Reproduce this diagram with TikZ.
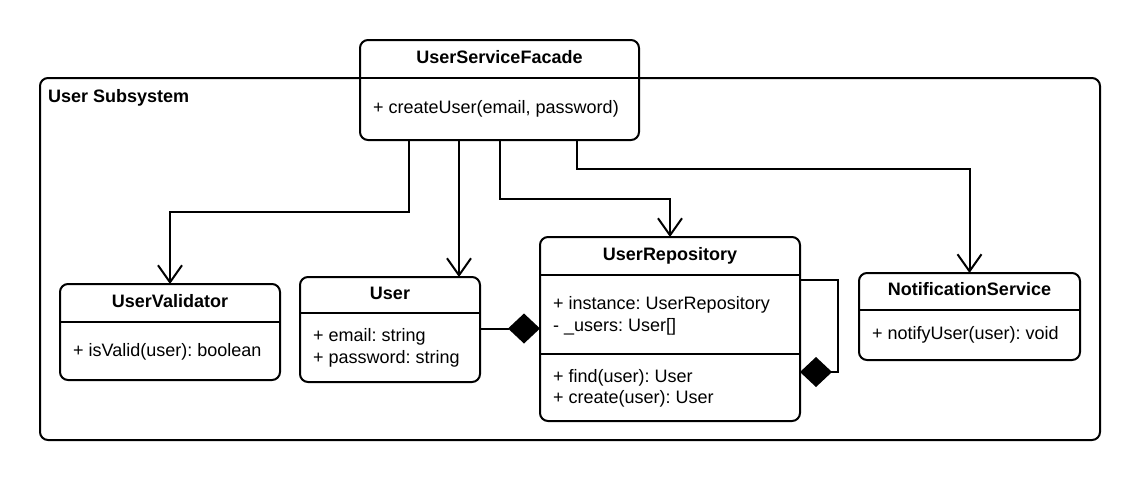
\documentclass[tikz,border=0pt]{standalone}
\usepackage{fontspec}
\setmainfont{Liberation Sans}
\usetikzlibrary{arrows.meta,positioning}
\frenchspacing
\newcommand{\umlfont}{\fontsize{18}{22}\selectfont}
\tikzset{
  classbox/.style={draw, line width=2pt, rounded corners=8pt, fill=white, anchor=north west, inner sep=0pt, outer sep=0pt},
  classname/.style={anchor=base, inner sep=0pt, font=\umlfont\bfseries},
  member/.style={anchor=base west, inner sep=0pt, font=\umlfont},
  assoc/.style={line width=2pt, -{Straight Barb[length=17pt,width=24pt]}},
  compo/.style={line width=2pt, -{Diamond[length=32pt,width=30pt]}},
}
\begin{document}
\begin{tikzpicture}[x=1pt,y=-1pt]
    \useasboundingbox (0,0) rectangle (1140,480);
    % subsystem frame
    \node[classbox, fill=none, minimum width=1060pt, minimum height=362pt] (subsys) at (40,78) {};
    \node[member, font=\umlfont\bfseries] (subsysL) at ([xshift=8pt,yshift=-24pt]subsys.north west) {User Subsystem};
    % facade
    \node[classbox, minimum width=279pt, minimum height=100pt] (facade) at (360,40) {};
        \draw[line width=2pt] ([yshift=-38pt]facade.north west) -- ([yshift=-38pt]facade.north east);
        \node[classname] (facadeN) at ([yshift=-23pt]facade.north) {UserServiceFacade};
        \node[member] (facadeM) at ([xshift=13pt,yshift=-73pt]facade.north west) {+ createUser(email, password)};
    % validator
    \node[classbox, minimum width=220pt, minimum height=96pt] (validator) at (60,284) {};
        \draw[line width=2pt] ([yshift=-38pt]validator.north west) -- ([yshift=-38pt]validator.north east);
        \node[classname] (validatorN) at ([yshift=-23pt]validator.north) {UserValidator};
        \node[member] (validatorM) at ([xshift=13pt,yshift=-72pt]validator.north west) {+ isValid(user): boolean};
    % user
    \node[classbox, minimum width=180pt, minimum height=105pt] (user) at (300,277) {};
        \draw[line width=2pt] ([yshift=-36pt]user.north west) -- ([yshift=-36pt]user.north east);
        \node[classname] (userN) at ([yshift=-22pt]user.north) {User};
        \node[member] (userA1) at ([xshift=13pt,yshift=-64pt]user.north west) {+ email: string};
        \node[member] (userA2) at ([yshift=-22pt]userA1.base west) {+ password: string};
    % repository
    \node[classbox, minimum width=260pt, minimum height=184pt] (repo) at (540,237) {};
        \draw[line width=2pt] ([yshift=-38pt]repo.north west) -- ([yshift=-38pt]repo.north east);
        \draw[line width=2pt] ([yshift=-117pt]repo.north west) -- ([yshift=-117pt]repo.north east);
        \node[classname] (repoN) at ([yshift=-23pt]repo.north) {UserRepository};
        \node[member] (repoA1) at ([xshift=13pt,yshift=-72pt]repo.north west) {+ instance: UserRepository};
        \node[member] (repoA2) at ([yshift=-22pt]repoA1.base west) {- \_users: User[]};
        \node[member] (repoM1) at ([xshift=13pt,yshift=-145pt]repo.north west) {+ find(user): User};
        \node[member] (repoM2) at ([yshift=-21pt]repoM1.base west) {+ create(user): User};
    % notification
    \node[classbox, minimum width=221pt, minimum height=87pt] (notif) at (859,273) {};
        \draw[line width=2pt] ([yshift=-37pt]notif.north west) -- ([yshift=-37pt]notif.north east);
        \node[classname] (notifN) at ([yshift=-22pt]notif.north) {NotificationService};
        \node[member] (notifM) at ([xshift=13pt,yshift=-66pt]notif.north west) {+ notifyUser(user): void};
    % connectors
    \coordinate (fV) at ([xshift=49pt]facade.south west);
    \coordinate (fU) at ([xshift=99pt]facade.south west);
    \coordinate (fR) at ([xshift=140pt]facade.south west);
    \coordinate (fN) at ([xshift=217pt]facade.south west);
    \draw[assoc] (fV) -- ++(0,72) -| (validator.north);
    \draw[assoc] (fU) -- (fU |- user.north);
    \draw[assoc] (fR) -- ++(0,59) -| (repo.north);
    \draw[assoc] (fN) -- ++(0,29) -| (notif.north);
    \draw[compo] ([yshift=1pt]user.east) -- ([yshift=1pt]user.east -| repo.west);
    \coordinate (loopA) at ([yshift=-43pt]repo.north east);
    \coordinate (loopB) at ([yshift=-135pt]repo.north east);
    \draw[compo] (loopA) -- ++(38,0) |- (loopB);
\end{tikzpicture}
\end{document}
